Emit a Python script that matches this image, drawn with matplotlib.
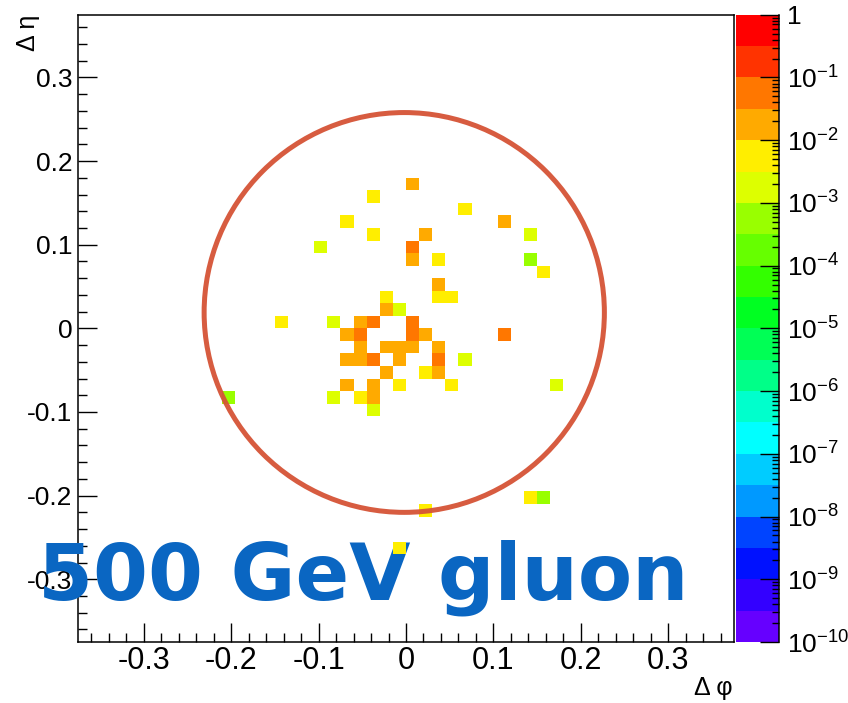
import numpy as np
import matplotlib
matplotlib.use('Agg')
import matplotlib.pyplot as plt
from matplotlib.colors import ListedColormap, LogNorm
from matplotlib.patches import Ellipse
from matplotlib.ticker import MultipleLocator, LogLocator, NullFormatter

plt.rcParams['font.family'] = ['Liberation Sans', 'DejaVu Sans']
plt.rcParams['axes.unicode_minus'] = False
plt.rcParams['mathtext.fontset'] = 'custom'
plt.rcParams['mathtext.rm'] = 'Liberation Sans'
plt.rcParams['mathtext.default'] = 'regular'

# cell centres (delta phi, delta eta) and energy fraction per cell, row by row from the top
dphi = [0.0075,
        -0.0375,
        0.0675,
        -0.0675, 0.1125,
        -0.0375, 0.0225, 0.1425,
        -0.0975, 0.0075,
        0.0075, 0.0375, 0.1425,
        0.1575,
        0.0375,
        -0.0225, 0.0375, 0.0525,
        -0.0225, -0.0075,
        -0.1425, -0.0825, -0.0525, -0.0375, 0.0075,
        -0.0675, -0.0525, 0.0075, 0.0225, 0.1125,
        -0.0525, -0.0225, -0.0075, 0.0075, 0.0375,
        -0.0675, -0.0525, -0.0375, -0.0075, 0.0375, 0.0675,
        -0.0225, 0.0225, 0.0375,
        -0.0675, -0.0375, -0.0075, 0.0525, 0.1725,
        -0.2025, -0.0825, -0.0525, -0.0375,
        -0.0375,
        0.1425, 0.1575,
        0.0225,
        -0.0075]
deta = [0.1725,
        0.1575,
        0.1425,
        0.1275, 0.1275,
        0.1125, 0.1125, 0.1125,
        0.0975, 0.0975,
        0.0825, 0.0825, 0.0825,
        0.0675,
        0.0525,
        0.0375, 0.0375, 0.0375,
        0.0225, 0.0225,
        0.0075, 0.0075, 0.0075, 0.0075, 0.0075,
        -0.0075, -0.0075, -0.0075, -0.0075, -0.0075,
        -0.0225, -0.0225, -0.0225, -0.0225, -0.0225,
        -0.0375, -0.0375, -0.0375, -0.0375, -0.0375, -0.0375,
        -0.0525, -0.0525, -0.0525,
        -0.0675, -0.0675, -0.0675, -0.0675, -0.0675,
        -0.0825, -0.0825, -0.0825, -0.0825,
        -0.0975,
        -0.2025, -0.2025,
        -0.2175,
        -0.2625]
frac = [0.020,
        0.006,
        0.005,
        0.005, 0.018,
        0.006, 0.022, 0.0018,
        0.0016, 0.045,
        0.020, 0.006, 0.0006,
        0.005,
        0.019,
        0.006, 0.005, 0.005,
        0.021, 0.0017,
        0.005, 0.0018, 0.024, 0.050, 0.055,
        0.020, 0.048, 0.052, 0.018, 0.040,
        0.022, 0.019, 0.021, 0.020, 0.018,
        0.021, 0.019, 0.046, 0.020, 0.044, 0.0016,
        0.020, 0.006, 0.019,
        0.020, 0.017, 0.006, 0.005, 0.0017,
        0.0005, 0.0018, 0.006, 0.021,
        0.0015,
        0.005, 0.0006,
        0.005,
        0.006]

# ROOT style palette, 20 levels from 1e-10 to 1 (bottom to top)
palette = ['#6600FF', '#3300FF', '#0011FF', '#0044FF', '#0099FF',
           '#00CCFF', '#00FFFF', '#00FFCC', '#00FF88', '#00FF55',
           '#00FF22', '#33FF00', '#66FF00', '#99FF00', '#DDFF00',
           '#FFEE00', '#FFAA00', '#FF7700', '#FF3300', '#FF0000']
cmap = ListedColormap(palette)
cmap.set_bad('white', 0)
norm = LogNorm(1e-10, 1)

tick_vals = [-0.3, -0.2, -0.1, 0, 0.1, 0.2, 0.3]
tick_labels = ['-0.3', '-0.2', '-0.1', '0', '0.1', '0.2', '0.3']

edges = np.arange(-25, 26) * 0.015
H, xe, ye = np.histogram2d(dphi, deta, bins=[edges, edges], weights=frac)
H = np.ma.masked_where(H <= 0, H)

fig = plt.figure(figsize=(8.48, 7.03), dpi=100)
ax = fig.add_axes([78 / 848, 61 / 703, 656 / 848, 627.3 / 703])
cax = fig.add_axes([736 / 848, 61 / 703, 43 / 848, 627.3 / 703])

ax.pcolormesh(xe, ye, H.T, cmap=cmap, norm=norm, zorder=3)

# jet cone
ax.add_patch(Ellipse((-0.002, 0.019), 2 * 0.2288, 2 * 0.239, fill=False,
                     edgecolor='#D55336', lw=3.6, alpha=0.95, zorder=4))

ax.set_xlim(-0.375, 0.375)
ax.set_ylim(-0.375, 0.375)
ax.set_xticks(tick_vals)
ax.set_xticklabels(tick_labels, fontsize=22, family=['Liberation Sans Narrow', 'Liberation Sans'])
ax.set_yticks(tick_vals)
ax.set_yticklabels(tick_labels, fontsize=19)
ax.xaxis.set_minor_locator(MultipleLocator(0.02))
ax.yaxis.set_minor_locator(MultipleLocator(0.02))
ax.tick_params(which='both', direction='in', top=False, right=False, width=1.0)
ax.tick_params(which='major', length=13.5)
ax.tick_params(which='minor', length=6.5)
ax.tick_params(axis='x', pad=3)
ax.tick_params(axis='y', pad=4)
for s in ax.spines.values():
    s.set_linewidth(1.1)

fig.text(733 / 848, 1 - 700 / 703, '\u0394 \u03c6', fontsize=18, ha='right', va='bottom')
fig.text(16 / 848, 1 - 15 / 703, '\u0394 \u03b7', fontsize=18, ha='left', va='top', rotation=90)

# colour scale
sm = plt.cm.ScalarMappable(norm=norm, cmap=cmap)
cb = fig.colorbar(sm, cax=cax)
cb.outline.set_visible(False)
cax.plot([1, 1], [0, 1], transform=cax.transAxes, color='black', lw=1.1, clip_on=False)
decades = [10.0 ** -k for k in range(10, -1, -1)]
dec_labels = ['$10^{-%d}$' % k for k in range(10, 0, -1)] + ['1']
cax.yaxis.set_ticks_position('right')
cax.set_yticks(decades)
cax.set_yticklabels(dec_labels, fontsize=19)
cax.yaxis.set_minor_locator(LogLocator(base=10, subs=np.arange(2, 10), numticks=100))
cax.yaxis.set_minor_formatter(NullFormatter())
cax.tick_params(which='both', direction='in', width=1.0, pad=6)
cax.tick_params(which='major', length=14)
cax.tick_params(which='minor', length=5)

# big label, drawn under the cells but over the tick labels
blue = '#0A66C2'
ax.text(38 / 848, 1 - 600 / 703, '500 GeV gluon', fontsize=57, family='DejaVu Sans',
        weight='bold', color=blue, ha='left', va='baseline',
        transform=fig.transFigure, clip_on=False, zorder=2.6)

fig.savefig('out.png', dpi=100)
